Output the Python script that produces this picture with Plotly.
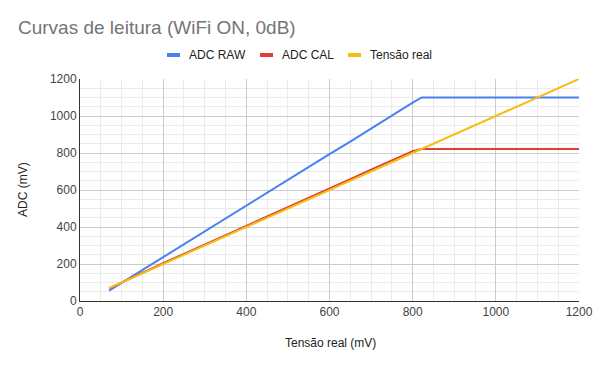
import plotly.graph_objects as go

tensao = [70, 100, 150, 200, 250, 300, 350, 400, 450, 500, 550, 600, 650, 700, 750, 800, 822,
          850, 900, 950, 1000, 1050, 1100, 1150, 1200]
adc_raw = [56, 98, 167, 237, 306, 376, 446, 514, 585, 654, 724, 794, 861, 932, 1003, 1072, 1100,
           1100, 1100, 1100, 1100, 1100, 1100, 1100, 1100]
adc_cal = [68, 100, 152, 204, 255, 305, 356, 407, 457, 507, 557, 607, 658, 710, 760, 810, 822,
           822, 822, 822, 822, 822, 822, 822, 822]
tensao_real = [70, 100, 150, 200, 250, 300, 350, 400, 450, 500, 550, 600, 650, 700, 750, 800, 822,
               850, 900, 950, 1000, 1050, 1100, 1150, 1200]

series_names = ["ADC RAW", "ADC CAL", "Tensão real"]
series_colors = ["#4A80F0", "#DE4132", "#F5BC14"]

FONT = "Liberation Sans, Arial, sans-serif"
W, H = 597, 366
L, R, T, B = 80, 18, 79, 65
PW, PH = W - L - R, H - T - B


def px(x):
    return (x - L) / PW


def py(y):
    return (H - B - y) / PH


fig = go.Figure()
for name, ys, col in zip(series_names, [adc_raw, adc_cal, tensao_real], series_colors):
    fig.add_trace(go.Scatter(x=tensao, y=ys, mode="lines", name=name,
                             line=dict(color=col, width=2), showlegend=False))

shapes = []
annotations = []
# manual legend (Google Sheets style short markers)
legend_marker_x = [167, 260, 348]
legend_text_x = [187, 280, 368]
legend_y = 55
for name, col, mx, tx in zip(series_names, series_colors, legend_marker_x, legend_text_x):
    shapes.append(dict(type="line", xref="paper", yref="paper",
                       x0=px(mx), x1=px(mx + 13), y0=py(legend_y), y1=py(legend_y),
                       line=dict(color=col, width=4)))
    annotations.append(dict(text=name, xref="paper", yref="paper", x=px(tx), y=py(legend_y),
                            xanchor="left", yanchor="middle", showarrow=False,
                            font=dict(family=FONT, size=12, color="#222222")))

# axis titles
annotations.append(dict(text="Tensão real (mV)", xref="paper", yref="paper",
                        x=px(330), y=py(343), xanchor="center", yanchor="middle",
                        showarrow=False, font=dict(family=FONT, size=12, color="#222222")))
annotations.append(dict(text="ADC (mV)", xref="paper", yref="paper",
                        x=px(23), y=py(190), xanchor="center", yanchor="middle", textangle=-90,
                        showarrow=False, font=dict(family=FONT, size=12, color="#222222")))

fig.update_layout(
    width=W, height=H,
    margin=dict(l=L, r=R, t=T, b=B),
    paper_bgcolor="white", plot_bgcolor="white",
    font=dict(family=FONT, size=12, color="#222222"),
    title=dict(text="Curvas de leitura (WiFi ON, 0dB)", xref="container", x=18 / W,
               xanchor="left", yref="container", y=1 - 27 / H, yanchor="middle",
               font=dict(family=FONT, size=19, color="#757575")),
    shapes=shapes,
    annotations=annotations,
    showlegend=False,
)
fig.update_xaxes(range=[0, 1200], dtick=200, tick0=0, automargin=False,
                 showgrid=True, gridcolor="#cccccc", gridwidth=1,
                 minor=dict(dtick=50, showgrid=True, gridcolor="#ebebeb"),
                 showline=True, linecolor="#333333", linewidth=1,
                 zeroline=False, ticks="",
                 tickfont=dict(family=FONT, size=12, color="#444444"))
fig.update_yaxes(range=[0, 1200], dtick=200, tick0=0, automargin=False,
                 showgrid=True, gridcolor="#cccccc", gridwidth=1,
                 minor=dict(dtick=50, showgrid=True, gridcolor="#ebebeb"),
                 showline=True, linecolor="#333333", linewidth=1,
                 zeroline=False, ticks="",
                 tickfont=dict(family=FONT, size=12, color="#444444"))

fig.write_html("out.html", config={"displayModeBar": False},
               post_script="document.body.style.margin='0';document.body.style.overflow='hidden';")
